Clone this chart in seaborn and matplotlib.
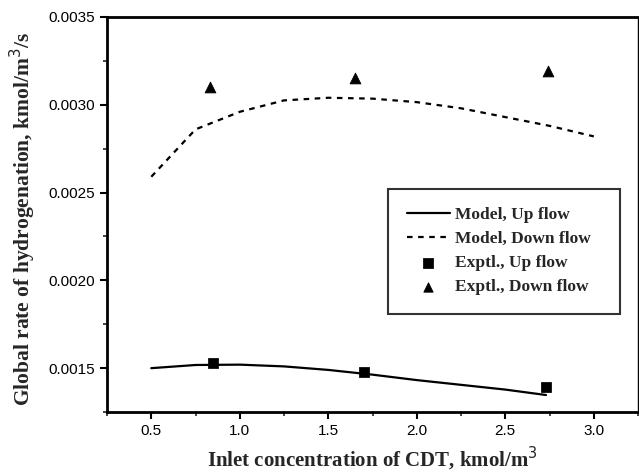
import matplotlib
matplotlib.use("Agg")
import matplotlib.pyplot as plt
import seaborn as sns
import pandas as pd
from matplotlib.ticker import MultipleLocator

sns.set_style("ticks")
plt.rcParams["font.family"] = ["Liberation Sans", "DejaVu Sans"]

# Model curves
model_up_x = [0.5, 0.75, 1.0, 1.25, 1.5, 1.75, 2.0, 2.25, 2.5, 2.73]
model_up_y = [0.001500, 0.001518, 0.001520, 0.001510, 0.001490, 0.001463, 0.001432, 0.001405, 0.001378, 0.001347]
model_down_x = [0.5, 0.75, 1.0, 1.25, 1.5, 1.75, 2.0, 2.25, 2.5, 2.75, 3.0]
model_down_y = [0.00259, 0.00286, 0.00296, 0.003025, 0.00304, 0.003035, 0.003015, 0.00298, 0.00293, 0.00288, 0.00282]

# Experimental points
exp_up_x = [0.85, 1.70, 2.73]
exp_up_y = [0.00153, 0.001478, 0.00139]
exp_down_x = [0.83, 1.65, 2.74]
exp_down_y = [0.00310, 0.003153, 0.003193]

fig = plt.figure(figsize=(6.39, 4.72), dpi=100)
ax = fig.add_axes([0.1675, 0.127, 0.831, 0.837])

sns.lineplot(x=model_up_x, y=model_up_y, ax=ax, color="black", lw=1.6,
             label="Model, Up flow")
sns.lineplot(x=model_down_x, y=model_down_y, ax=ax, color="black", lw=1.6,
             linestyle=(0, (2.5, 2.5)), label="Model, Down flow")
sns.scatterplot(x=exp_up_x, y=exp_up_y, ax=ax, color="black", marker="s", s=45,
                edgecolor="black", label="Exptl., Up flow")
sns.scatterplot(x=exp_down_x, y=exp_down_y, ax=ax, color="black", marker="^", s=60,
                edgecolor="black", label="Exptl., Down flow")

ax.set_xlim(0.25, 3.25)
ax.set_ylim(0.00125, 0.0035)
ax.xaxis.set_minor_locator(MultipleLocator(0.25))
ax.yaxis.set_minor_locator(MultipleLocator(0.00025))
ax.set_xticks([0.5, 1.0, 1.5, 2.0, 2.5, 3.0])
ax.set_xticklabels(["0.5", "1.0", "1.5", "2.0", "2.5", "3.0"])
ax.set_yticks([0.0015, 0.0020, 0.0025, 0.0030, 0.0035])
ax.set_yticklabels(["0.0015", "0.0020", "0.0025", "0.0030", "0.0035"])
ax.tick_params(axis="both", which="major", direction="out", length=5, width=1.5,
               labelsize=11, colors="black")
ax.tick_params(axis="both", which="minor", direction="out", length=3, width=1.2)

for side in ["left", "bottom", "top", "right"]:
    ax.spines[side].set_visible(True)
    ax.spines[side].set_color("black")
ax.spines["left"].set_linewidth(2.0)
ax.spines["bottom"].set_linewidth(2.0)
ax.spines["top"].set_linewidth(2.0)
ax.spines["right"].set_linewidth(1.0)

serif_bold = dict(family=["Liberation Serif", "DejaVu Serif"], weight="bold", size=15)
ax.set_xlabel("Inlet concentration of CDT, kmol/m$^3$", fontdict=serif_bold, labelpad=5)
ax.set_ylabel("Global rate of hydrogenation, kmol/m$^3$/s",
              fontdict=dict(serif_bold, size=15.5))
ax.yaxis.set_label_coords(-0.13, 0.49)

leg = ax.legend(loc="upper left", bbox_to_anchor=(0.530, 0.5646, 0.436, 0.0),
                mode="expand", frameon=True,
                fancybox=False, edgecolor="black", handlelength=2.5, handletextpad=0.3,
                borderpad=1.05, labelspacing=0.45, borderaxespad=0,
                prop=dict(family=["Liberation Serif", "DejaVu Serif"], weight="bold", size=12.5))
leg.get_frame().set_linewidth(1.5)
for h in leg.legend_handles:
    try:
        h.set_sizes([45])
    except AttributeError:
        pass

fig.savefig("out.png", dpi=100)
